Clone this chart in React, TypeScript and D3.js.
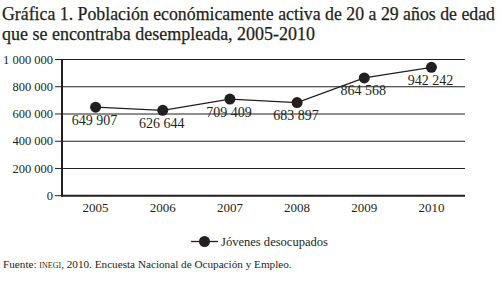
import React from "react";
import * as d3 from "d3";

const years = ["2005", "2006", "2007", "2008", "2009", "2010"];
const values = [649907, 626644, 709409, 683897, 864568, 942242];
const valueLabels = ["649 907", "626 644", "709 409", "683 897", "864 568", "942 242"];
const yTicks = [0, 200000, 400000, 600000, 800000, 1000000];
const yTickLabels = ["0", "200 000", "400 000", "600 000", "800 000", "1 000 000"];
const seriesName = "Jóvenes desocupados";

const INK = "#231f20";
const FONT = "'Liberation Serif', 'DejaVu Serif', serif";

export default function App() {
  const W = 503, H = 285;
  const left = 62, right = 465, top = 59.5, bottom = 195.7;
  const x = d3.scalePoint<string>().domain(years).range([left, right]).padding(0.5);
  const y = d3.scaleLinear().domain([0, 1000000]).range([bottom, top]);
  const line = d3.line<number>().x((_, i) => x(years[i])!).y((d) => y(d));

  return (
    <svg width={W} height={H} style={{ position: "absolute", left: 0, top: 0, background: "#fff" }}>
      <rect x={0} y={0} width={W} height={H} fill="#fff" />
      <text x={2} y={19.5} fontFamily={FONT} fontSize={18} fill={INK} stroke={INK} strokeWidth={0.25} textLength={493} lengthAdjust="spacingAndGlyphs">
        Gráfica 1. Población económicamente activa de 20 a 29 años de edad
      </text>
      <text x={2} y={40} fontFamily={FONT} fontSize={18} fill={INK} stroke={INK} strokeWidth={0.25} textLength={313} lengthAdjust="spacingAndGlyphs">
        que se encontraba desempleada, 2005-2010
      </text>

      {yTicks.map((t, i) => (
        <g key={t}>
          {t !== 0 && <line x1={left} x2={right} y1={y(t)} y2={y(t)} stroke={INK} strokeWidth={1.1} />}
          <line x1={left - 7} x2={left} y1={y(t)} y2={y(t)} stroke={INK} strokeWidth={1} />
          <text x={left - 9} y={y(t)} dy="0.33em" textAnchor="end" fontFamily={FONT} fontSize={12.5} fill={INK}>
            {yTickLabels[i]}
          </text>
        </g>
      ))}
      <line x1={left} x2={left} y1={top - 0.5} y2={bottom + 1} stroke={INK} strokeWidth={2} />
      <line x1={left - 1} x2={right} y1={bottom} y2={bottom} stroke={INK} strokeWidth={2} />

      {years.map((yr) => (
        <text key={yr} x={x(yr)} y={212.3} textAnchor="middle" fontFamily={FONT} fontSize={13} fill={INK}>
          {yr}
        </text>
      ))}

      <path d={line(values) || ""} fill="none" stroke={INK} strokeWidth={1.3} />
      {values.map((v, i) => (
        <g key={i}>
          <circle cx={x(years[i])} cy={y(v)} r={5.5} fill={INK} />
          <text x={x(years[i])! - 1} y={y(v) + 17.5} textAnchor="middle" fontFamily={FONT} fontSize={14} fill={INK}>
            {valueLabels[i]}
          </text>
        </g>
      ))}

      <line x1={191} x2={218} y1={241.5} y2={241.5} stroke={INK} strokeWidth={1.3} />
      <circle cx={204.5} cy={241.5} r={5.5} fill={INK} />
      <text x={221} y={246} fontFamily={FONT} fontSize={13} fill={INK} textLength={107} lengthAdjust="spacingAndGlyphs">
        {seriesName}
      </text>

      <text x={3} y={268} fontFamily={FONT} fontSize={11.2} fill={INK}>
        Fuente: <tspan style={{ fontVariant: "small-caps" }}>inegi</tspan>, 2010. Encuesta Nacional de Ocupación y Empleo.
      </text>
    </svg>
  );
}
